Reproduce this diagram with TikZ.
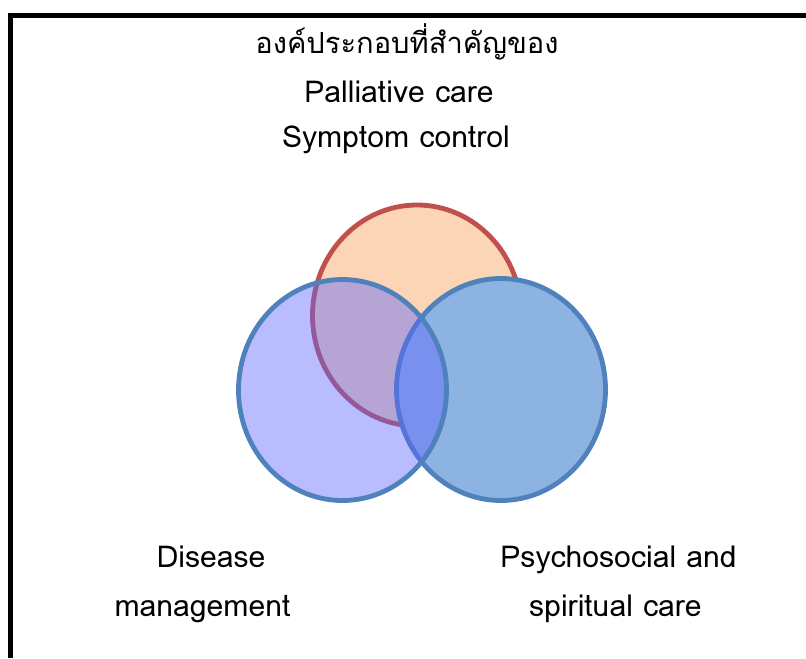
\documentclass[tikz,border=0pt]{standalone}
\usepackage{fontspec}
\setmainfont{Loma}
\newfontfamily\thaifont[Script=Thai]{Loma}
\definecolor{peach}{RGB}{251,213,181}
\definecolor{redline}{RGB}{192,80,77}
\definecolor{lblue}{RGB}{141,179,226}
\definecolor{bline}{RGB}{79,129,189}
\definecolor{lav}{RGB}{93,100,255}
\tikzset{
  lbl/.style={anchor=base, font=\fontsize{22.6}{27}\selectfont, inner sep=0pt},
  thailbl/.style={anchor=base, font=\fontsize{21.8}{26}\selectfont\thaifont, inner sep=0pt},
  ring/.style={line width=3.6pt}
}
\begin{document}
\begin{tikzpicture}[x=0.75pt,y=-0.75pt]
\useasboundingbox (0,0) rectangle (806,658);
\coordinate (fb) at (10.5,658);
\coordinate (fc) at (10.5,15.8);
\coordinate (fr) at (806,15.8);
\draw[line width=3.75pt] (fb) -- (fc) -- (fr);
% circles
\draw[ring, draw=redline, fill=peach] (417,315.5) ellipse [x radius=104.5, y radius=110.5];
\draw[ring, draw=bline, fill=lblue] (501,389.5) ellipse [x radius=104.5, y radius=111];
\fill[lav, fill opacity=0.43] (342.5,390) ellipse [x radius=104, y radius=110.5];
\draw[ring, draw=bline] (342.5,390) ellipse [x radius=104, y radius=110.5];
% texts
\node[thailbl] (t1) at (407,53) {องค์ประกอบที่สำคัญของ};
\node[lbl] (t2) at (399,102) {Palliative care};
\node[lbl] (t3) at (396,147) {Symptom control};
\node[lbl] (d1) at (211,567) {Disease};
\node[lbl] (d2) at (202.5,616) {management};
\node[lbl] (p1) at (618.5,567) {Psychosocial and};
\node[lbl] (p2) at (615.5,616) {spiritual care};
\end{tikzpicture}
\end{document}
